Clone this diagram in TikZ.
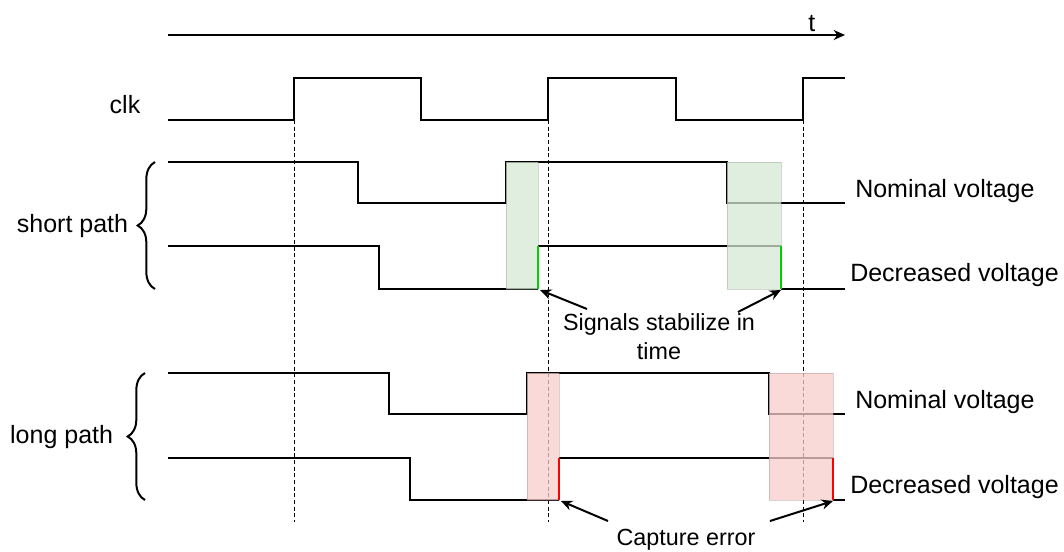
\documentclass[tikz,border=0pt]{standalone}
\usepackage{fontspec}
\setmainfont{Liberation Sans}
\usetikzlibrary{arrows.meta,positioning,decorations.pathreplacing}
\definecolor{okfill}{RGB}{213,232,212}
\definecolor{errfill}{RGB}{248,206,204}
\definecolor{okedge}{RGB}{0,210,0}
\tikzstyle{signal}=[line width=1.5pt]
\tikzstyle{clockline}=[thin, dash pattern=on 3pt off 2pt]
\tikzstyle{window}=[fill opacity=0.75, draw opacity=0.35, thin]
\tikzstyle{pathbrace}=[line width=1.5pt, decorate, decoration={brace, amplitude=13pt}]
\tikzstyle{note}=[inner sep=0pt, align=center]
\tikzstyle{remark}=[note, font=\fontsize{17.5}{21.75}\selectfont]

\begin{document}
\begin{tikzpicture}[>={Stealth[length=8.5pt,width=7.5pt]}, x=0.75pt, y=-0.75pt,
    font=\fontsize{18.75}{21.75}\selectfont]
    \useasboundingbox (0,0) rectangle (1064,551);

    % time axis
    \coordinate (t0) at (168,35);
    \coordinate (t1) at (845,35);
    \draw[->, line width=1.5pt] (t0) -- (t1);
    \node[note] (tlabel) [above left=2pt and 22pt of t1] {t};

    % clock
    \node[note] (clk) at (125,105) {clk};
    \draw[signal] (168,120) -- (294,120) -- (294,78) -- (421,78) -- (421,120)
        -- (548,120) -- (548,78) -- (676,78) -- (676,120) -- (803,120)
        -- (803,78) -- (845,78);
    \foreach \x in {294,548,803}
        \draw[clockline] (\x,120) -- (\x,522);

    % short path
    \draw[signal] (168,162) -- (358,162) -- (358,203) -- (506,203) -- (506,162)
        -- (727,162) -- (727,203) -- (845,203);
    \draw[signal] (168,246) -- (379,246) -- (379,289) -- (538,289);
    \draw[signal] (538,246) -- (781,246);
    \draw[signal] (781,289) -- (845,289);
    \draw[window, fill=okfill, draw=okfill!60!black] (506,162) rectangle (538,289);
    \draw[window, fill=okfill, draw=okfill!60!black] (727,162) rectangle (781,289);
    \draw[okedge, line width=1pt] (538,289) -- (538,246);
    \draw[okedge, line width=1pt] (781,246) -- (781,289);

    % long path
    \draw[signal] (168,373) -- (389,373) -- (389,414) -- (527,414) -- (527,373)
        -- (769,373) -- (769,414) -- (845,414);
    \draw[signal] (168,458) -- (410,458) -- (410,500) -- (559,500);
    \draw[signal] (559,458) -- (833,458);
    \draw[signal] (833,500) -- (845,500);
    \draw[window, fill=errfill, draw=errfill!60!black] (527,373) rectangle (559,500);
    \draw[window, fill=errfill, draw=errfill!60!black] (769,373) rectangle (833,500);
    \draw[red, line width=1pt] (559,500) -- (559,458);
    \draw[red, line width=1pt] (833,458) -- (833,500);

    % braces and group labels
    \draw[pathbrace] (155,289) -- (155,162);
    \draw[pathbrace] (145,500) -- (145,373);
    \coordinate (shorttip) at (137,226);
    \coordinate (longtip) at (128,437);
    \node[note] (short) [left=6.5pt of shorttip] {short path};
    \node[note] (long) [left=11pt of longtip] {long path};

    % voltage labels
    \node[note, anchor=base west] (nomS) at (855,197) {Nominal voltage};
    \node[note, anchor=base west] (decS) at (850,281) {Decreased voltage};
    \node[note, anchor=base west] (nomL) at (855,408) {Nominal voltage};
    \node[note, anchor=base west] (decL) at (850,493) {Decreased voltage};

    % annotations
    \node[remark] (stab) at (659,337) {Signals stabilize in\\time};
    \node[remark] (err) at (686,540) {Capture error};
    \coordinate (stabA) at (587,309);
    \coordinate (stabB) at (738,312);
    \coordinate (errA) at (608,521);
    \coordinate (errB) at (770,521);
    \coordinate (edgeS1) at (540,290);
    \coordinate (edgeS2) at (781,290);
    \coordinate (edgeL1) at (561,501);
    \coordinate (edgeL2) at (833,501);
    \draw[->, line width=1.5pt] (stabA) -- (edgeS1);
    \draw[->, line width=1.5pt] (stabB) -- (edgeS2);
    \draw[->, line width=1.5pt] (errA) -- (edgeL1);
    \draw[->, line width=1.5pt] (errB) -- (edgeL2);
\end{tikzpicture}
\end{document}
